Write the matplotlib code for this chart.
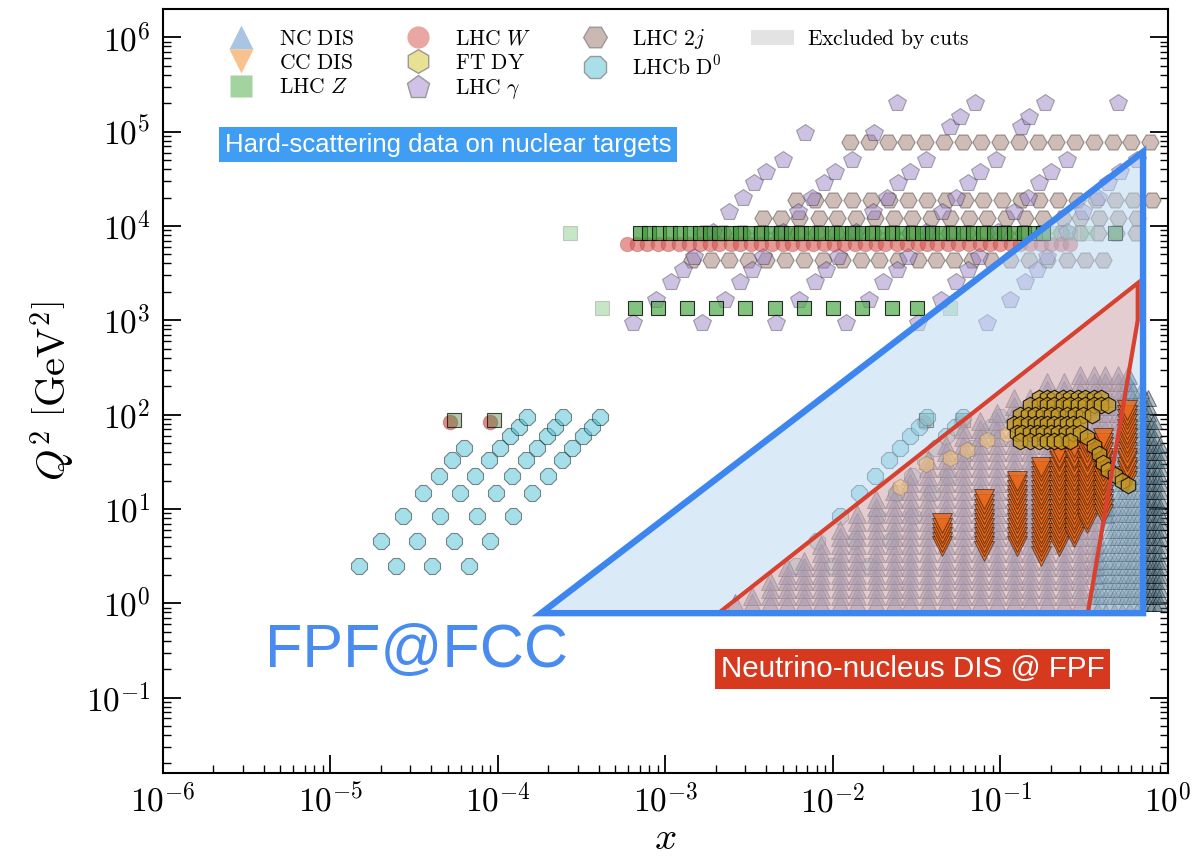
import numpy as np
import matplotlib
matplotlib.use('Agg')
import matplotlib.pyplot as plt
from matplotlib.colors import to_rgba
from matplotlib.lines import Line2D
from matplotlib.patches import Patch, Polygon
from matplotlib.ticker import LogLocator, NullFormatter, FuncFormatter

plt.rcParams['mathtext.fontset'] = 'cm'

# ---- LHCb D0 (forward, 4 rapidity diagonals) ----
d0_q2 = [2.5, 4.6, 8.5, 14.6, 22.4, 33, 44.5, 59.6, 74, 95]
d0_x1 = [1.49e-5, 2.0e-5, 2.72e-5, 3.58e-5, 4.45e-5, 5.33e-5, 6.3e-5]
d0_x2 = [2.46e-5, 3.3e-5, 4.49e-5, 5.9e-5, 7.33e-5, 8.8e-5, 1.03e-4, 1.18e-4, 1.33e-4, 1.50e-4]
d0_x3 = [4.05e-5, 5.45e-5, 7.46e-5, 9.7e-5, 1.21e-4, 1.46e-4, 1.70e-4, 1.95e-4, 2.19e-4, 2.45e-4]
d0_x4 = [6.68e-5, 8.95e-5, 1.23e-4, 1.6e-4, 2.0e-4, 2.4e-4, 2.78e-4, 3.23e-4, 3.62e-4, 4.06e-4]
# backward rapidity
d0b_x2 = [6.0e-3, 8.05e-3, 1.1e-2, 1.44e-2, 1.79e-2, 2.15e-2, 2.51e-2, 2.88e-2, 3.25e-2, 3.66e-2]
d0b_x3 = [9.9e-3, 1.33e-2, 1.82e-2, 2.37e-2, 2.95e-2, 3.56e-2, 4.15e-2, 4.76e-2, 5.34e-2, 5.98e-2]
d0b_x4 = [1.63e-2, 2.18e-2, 3.0e-2, 3.9e-2, 4.88e-2, 5.86e-2, 6.78e-2, 7.88e-2, 8.83e-2, 9.9e-2]

# ---- LHC W and Z ----
w_q2 = 6464
w_x = [5.9e-4, 6.8e-4, 7.8e-4, 9.0e-4, 1.04e-3, 1.2e-3, 1.38e-3, 1.6e-3, 1.84e-3, 2.1e-3,
       2.45e-3, 2.8e-3, 3.25e-3, 3.7e-3, 4.3e-3, 5.0e-3, 5.7e-3, 6.6e-3, 7.6e-3, 8.8e-3,
       1.01e-2, 1.17e-2, 1.35e-2, 1.55e-2, 1.8e-2, 2.05e-2, 2.4e-2, 2.75e-2, 3.2e-2, 3.65e-2,
       4.2e-2, 4.85e-2, 5.6e-2, 6.5e-2, 7.5e-2, 8.6e-2, 0.1, 0.115, 0.13, 0.15, 0.175, 0.2, 0.23, 0.26]
w_lowm_x = [5.2e-5, 9.0e-5, 3.5e-2, 5.8e-2]
w_lowm_q2 = 84

z_q2_hi = 8315
z_x_hi = [7.0e-4, 8.0e-4, 9.2e-4, 1.06e-3, 1.22e-3, 1.4e-3, 1.6e-3, 1.85e-3, 2.1e-3, 2.45e-3,
          2.8e-3, 3.2e-3, 3.7e-3, 4.25e-3, 4.9e-3, 5.6e-3, 6.4e-3, 7.4e-3, 8.5e-3, 9.8e-3,
          1.12e-2, 1.3e-2, 1.5e-2, 1.7e-2, 1.95e-2, 2.25e-2, 2.6e-2, 3.0e-2, 3.4e-2, 3.9e-2,
          4.5e-2, 5.2e-2, 6.0e-2, 6.9e-2, 7.9e-2, 9.1e-2, 0.105, 0.12, 0.138, 0.16, 0.18, 0.48]
z_q2_lo = 1336
z_x_lo = [6.6e-4, 9.0e-4, 1.35e-3, 2.0e-3, 3.0e-3, 4.5e-3, 6.7e-3, 1.0e-2, 1.5e-2, 2.24e-2, 3.16e-2]
z_lowm_x = [5.5e-5, 9.5e-5, 3.6e-2, 6.0e-2]
z_lowm_q2 = 88
z_cut_x = [2.7e-4, 4.2e-4, 5.0e-2, 0.2, 0.26, 0.33]
z_cut_q2 = [8315, 1336, 1336, 8315, 8315, 8315]

# ---- LHC dijets, one row per mass bin ----
j2_q2 = [7.8e4, 1.9e4, 1.2e4, 8.4e3, 4.4e3]
j2_x_a = [0.0126, 0.0164, 0.0212, 0.0274, 0.0355, 0.046, 0.0595, 0.077, 0.0996, 0.129,
          0.167, 0.216, 0.279, 0.361, 0.467, 0.605, 0.78]
j2_x_b = [6.0e-3, 7.8e-3, 1.0e-2, 1.3e-2, 1.68e-2, 2.17e-2, 2.8e-2, 3.63e-2, 4.7e-2, 6.1e-2,
          7.9e-2, 0.102, 0.132, 0.171, 0.221, 0.286, 0.37, 0.48, 0.62, 0.80]
j2_x_c = [3.8e-3, 4.9e-3, 6.3e-3, 8.2e-3, 1.06e-2, 1.37e-2, 1.77e-2, 2.3e-2, 2.97e-2, 3.85e-2,
          5.0e-2, 6.45e-2, 8.3e-2, 0.108, 0.14, 0.18, 0.235, 0.30, 0.39, 0.50, 0.65]
j2_x_d = [1.7e-3, 2.2e-3, 2.85e-3, 3.7e-3, 4.8e-3, 6.2e-3, 8.0e-3, 1.04e-2, 1.34e-2, 1.74e-2,
          2.25e-2, 2.9e-2, 3.8e-2, 4.9e-2, 6.3e-2, 8.2e-2, 0.106, 0.137, 0.177, 0.23, 0.30, 0.38, 0.49, 0.64]
j2_x_e = [1.44e-3, 1.86e-3, 2.4e-3, 3.1e-3, 4.0e-3, 5.2e-3, 6.7e-3, 8.7e-3, 1.13e-2, 1.46e-2,
          1.89e-2, 2.45e-2, 3.2e-2, 4.1e-2, 5.3e-2, 6.8e-2, 8.8e-2, 0.114, 0.148, 0.19, 0.25, 0.32, 0.41]

# ---- LHC photons ----
gam_x = [6.4e-4, 8.8e-4, 1.08e-3, 1.27e-3, 1.48e-3, 1.92e-3, 2.4e-3, 2.9e-3, 3.4e-3, 4.0e-3, 5.0e-3, 6.8e-3,
         1.65e-3, 2.27e-3, 2.8e-3, 3.3e-3, 3.8e-3, 5.0e-3, 6.2e-3, 7.5e-3, 8.8e-3, 1.03e-2, 1.3e-2, 1.75e-2, 2.4e-2,
         4.6e-3, 6.3e-3, 7.8e-3, 9.1e-3, 1.07e-2, 1.38e-2, 1.73e-2, 2.1e-2, 2.45e-2, 2.9e-2, 3.6e-2, 5.0e-2, 5.7e-2, 7.0e-2,
         1.2e-2, 1.65e-2, 2.0e-2, 2.4e-2, 2.8e-2, 3.6e-2, 4.5e-2, 5.4e-2, 6.4e-2, 7.5e-2, 9.4e-2, 0.132, 0.148, 0.185,
         3.2e-2, 4.4e-2, 5.4e-2, 6.4e-2, 7.4e-2, 9.6e-2, 0.12, 0.145, 0.17, 0.2, 0.25, 0.5,
         8.3e-2, 0.114, 0.14, 0.165, 0.19, 0.25, 0.31, 0.38, 0.44, 0.52, 0.65]
gam_q2 = [933, 1640, 2540, 3400, 4680, 8600, 1.4e4, 2.0e4, 2.85e4, 3.7e4, 5.0e4, 9.7e4,
          933, 1640, 2540, 3400, 4680, 8600, 1.4e4, 2.0e4, 2.85e4, 3.7e4, 5.0e4, 9.7e4, 2.0e5,
          933, 1640, 2540, 3400, 4680, 8600, 1.4e4, 2.0e4, 2.85e4, 3.7e4, 5.0e4, 1.12e5, 1.43e5, 2.0e5,
          933, 1640, 2540, 3400, 4680, 8600, 1.4e4, 2.0e4, 2.85e4, 3.7e4, 5.0e4, 1.12e5, 1.43e5, 2.0e5,
          933, 1640, 2540, 3400, 4680, 8600, 1.4e4, 2.0e4, 2.85e4, 3.7e4, 5.0e4, 2.0e5,
          933, 1640, 2540, 3400, 4680, 8600, 1.4e4, 2.0e4, 2.85e4, 3.7e4, 5.0e4]

# ---- fixed-target Drell-Yan ----
dy_x = [0.17, 0.19, 0.21, 0.235, 0.26, 0.29, 0.32, 0.36, 0.40,
        0.15, 0.17, 0.19, 0.21, 0.235, 0.26, 0.29, 0.32, 0.36, 0.40, 0.44,
        0.13, 0.145, 0.16, 0.18, 0.20, 0.22, 0.25, 0.28, 0.31, 0.35,
        0.12, 0.13, 0.145, 0.16, 0.175, 0.19, 0.21, 0.23, 0.25, 0.27, 0.30,
        0.125, 0.135, 0.15, 0.165, 0.18, 0.2, 0.22, 0.245, 0.27, 0.3,
        0.13, 0.15, 0.17, 0.19, 0.21, 0.23, 0.26,
        0.33, 0.36, 0.385, 0.41, 0.44, 0.48, 0.53, 0.58]
dy_q2 = [150] * 9 + [125] * 11 + [100] * 10 + [80] * 11 + [64] * 10 + [52] * 7 + \
        [58, 47, 38, 31, 26, 23, 20, 18]
dy_cut_x = [0.025, 0.036, 0.05, 0.063, 0.083, 0.11]
dy_cut_q2 = [17, 30, 35, 42, 54, 63]

# ---- neutral-current DIS: x bins and their Q2 coverage ----
nc_ladder = [1.0, 1.2, 1.4, 1.7, 2.0, 2.4, 2.8, 3.4, 4.1, 5.0, 6.0, 7.3, 8.8, 10.6, 12.8,
             15.5, 18.7, 22.6, 27, 33, 40, 48, 58, 70, 85, 103, 124, 150, 181, 219, 265]
nc_x = [2.6e-3, 3.3e-3, 4.2e-3, 5.3e-3, 6.7e-3, 8.5e-3, 0.011, 0.014, 0.018, 0.023, 0.029,
        0.037, 0.047, 0.06, 0.075, 0.095, 0.12, 0.15, 0.19, 0.24, 0.30, 0.36, 0.42, 0.50, 0.58]
nc_qmin = [1.0] * 21 + [2.0, 8.0, 50, 180]
nc_qmax = [1.05, 1.25, 1.7, 2.4, 3.3, 4.6, 6.6, 9.2, 13, 18, 25, 35, 50, 70, 95, 120, 150,
           180, 220, 260, 300, 300, 300, 300, 300]
# points removed by the kinematic cuts (high x)
ex_x = [0.36, 0.40, 0.45, 0.50, 0.56, 0.62, 0.69, 0.76, 0.83, 0.90]
ex_qmax = [1.6, 4.5, 14, 40, 120, 200, 200, 160, 100, 50]

# ---- charged-current DIS ----
cc_ladder = [3.2, 3.6, 4.0, 4.5, 5.0, 5.6, 6.3, 7.1, 7.9, 8.9, 10, 11.2, 12.6, 14.1, 15.8,
             17.8, 20, 22.4, 25, 28, 32, 35, 40, 45, 50, 56, 63, 71, 79, 89, 100, 112]
cc_x = [0.045, 0.08, 0.125, 0.175, 0.225, 0.275, 0.33, 0.41, 0.57]
cc_qmin = [3.8, 3.4, 3.8, 3.1, 3.8, 5.0, 6.5, 8.1, 20]
cc_qmax = [7.8, 14, 21, 30, 42, 45, 50, 58, 112]

# FPF coverage regions
fcc_x = [1.81e-4, 0.71, 0.71]
fcc_q2 = [0.785, 6.1e4, 0.785]
nu_x = [2.1e-3, 0.66, 0.66, 0.333]
nu_q2 = [0.8, 2480, 1000, 0.8]


def columns(xs, lo, hi, ladder):
    px, py = [], []
    for x, a, b in zip(xs, lo, hi):
        for q in ladder:
            if a <= q <= b:
                px.append(x)
                py.append(q)
    return px, py


fig = plt.figure(figsize=(12.01, 8.57), dpi=100)
ax = fig.add_axes([0.1357, 0.098, 0.8368, 0.8915])
ax.set_xscale('log')
ax.set_yscale('log')


def pts(x, y, marker, face, falpha, ms, edge='k', ealpha=0.45, mew=0.8, z=2):
    ax.plot(x, y, ls='none', marker=marker, ms=ms, mfc=to_rgba(face, falpha),
            mec=to_rgba(edge, ealpha), mew=mew, zorder=z)


# dijets
for q, xs in zip(j2_q2, [j2_x_a, j2_x_b, j2_x_c, j2_x_d, j2_x_e]):
    pts(xs, [q] * len(xs), 'H', '#a07a6e', 0.5, 12.5, ealpha=0.35)
# photons
pts(gam_x, gam_q2, 'p', '#9f86c9', 0.5, 13, ealpha=0.3)
# W and Z
pts(w_x, [w_q2] * len(w_x), 'o', '#d9534f', 0.6, 10.5, ealpha=0.15)
pts(w_lowm_x, [w_lowm_q2] * 4, 'o', '#d9534f', 0.7, 10.5, ealpha=0.2)
pts(z_cut_x, z_cut_q2, 's', '#5cb85c', 0.35, 10, edge='#888888', ealpha=0.4)
pts(z_x_hi, [z_q2_hi] * len(z_x_hi), 's', '#3e9b3a', 0.7, 10, ealpha=0.8)
pts(z_x_lo, [z_q2_lo] * len(z_x_lo), 's', '#4faa4a', 0.7, 10, ealpha=0.8)
pts(z_lowm_x, [z_lowm_q2] * 4, 's', '#5a8a4a', 0.45, 10, ealpha=0.7)
# LHCb D0
for xs in [d0_x1, d0_x2, d0_x3, d0_x4, d0b_x2, d0b_x3, d0b_x4]:
    pts(xs, d0_q2[:len(xs)], '8', '#4cc3d6', 0.5, 12, ealpha=0.45)
# DIS
ncx, ncq = columns(nc_x, nc_qmin, nc_qmax, nc_ladder)
pts(ncx, ncq, '^', '#2f4f8f', 0.55, 12.5, ealpha=0.6, mew=0.7)
exx, exq = columns(ex_x, [1.0] * len(ex_x), ex_qmax, nc_ladder)
pts(exx, exq, '^', '#4a6a7a', 0.45, 12, ealpha=0.5, mew=0.7)

# FPF kinematic regions, shaded over the data
ax.add_patch(Polygon(list(zip(fcc_x, fcc_q2)), closed=True, fc=to_rgba('#b9d7f1', 0.5),
                     ec='none', zorder=3))
ax.add_patch(Polygon(list(zip(nu_x, nu_q2)), closed=True, fc=to_rgba('#f2a59a', 0.42),
                     ec='none', zorder=4))

# neutrino DIS and Drell-Yan on top of the shading
ccx, ccq = columns(cc_x, cc_qmin, cc_qmax, cc_ladder)
pts(ccx, ccq, 'v', '#e8691c', 0.85, 14, ealpha=0.5, mew=0.7, z=4.5)
pts(dy_cut_x, dy_cut_q2, 'h', '#f0c27e', 0.6, 12, ealpha=0.15, z=4.5)
pts(dy_x, dy_q2, 'h', '#c49a26', 0.75, 12, ealpha=0.85, z=4.5)

ax.add_patch(Polygon(list(zip(nu_x, nu_q2)), closed=True, fill=False, ec='#d8412f',
                     lw=3, joinstyle='miter', zorder=5))
ax.add_patch(Polygon(list(zip(fcc_x, fcc_q2)), closed=True, fill=False, ec='#3d86f0',
                     lw=4.6, joinstyle='miter', zorder=6))

ax.set_xlim(1e-6, 1)
ax.set_ylim(10 ** -1.8, 10 ** 6.3)
decade = FuncFormatter(lambda v, p: r'$10^{%d}$' % round(np.log10(v)))
ax.xaxis.set_major_locator(LogLocator(base=10, numticks=20))
ax.yaxis.set_major_locator(LogLocator(base=10, numticks=20))
ax.xaxis.set_major_formatter(decade)
ax.yaxis.set_major_formatter(decade)
ax.xaxis.set_minor_locator(LogLocator(base=10, subs=np.arange(2, 10), numticks=100))
ax.yaxis.set_minor_locator(LogLocator(base=10, subs=np.arange(2, 10), numticks=100))
ax.xaxis.set_minor_formatter(NullFormatter())
ax.yaxis.set_minor_formatter(NullFormatter())
ax.tick_params(which='both', direction='in', right=True, top=False, labelsize=24)
ax.tick_params(which='major', length=13, width=1.3)
ax.tick_params(which='minor', length=6, width=1.0)
ax.tick_params(axis='x', pad=8)
ax.tick_params(axis='y', pad=9)
for s in ax.spines.values():
    s.set_linewidth(1.5)

ax.set_xlabel(r'$x$', fontsize=28, labelpad=0)
ax.set_ylabel(r'$Q^2\ \left[\mathrm{GeV}^2\right]$', fontsize=29, labelpad=6)

# legend
handles = [
    Line2D([], [], ls='none', marker='^', ms=17, mfc='#a9c5e2', mec='none', label=r'$\mathrm{NC\ DIS}$'),
    Line2D([], [], ls='none', marker='v', ms=17, mfc='#f8c28f', mec='none', label=r'$\mathrm{CC\ DIS}$'),
    Line2D([], [], ls='none', marker='s', ms=16, mfc='#a3d39e', mec='none', label=r'$\mathrm{LHC}\ Z$'),
    Line2D([], [], ls='none', marker='o', ms=16, mfc='#eaa6a3', mec='none', label=r'$\mathrm{LHC}\ W$'),
    Line2D([], [], ls='none', marker='h', ms=17, mfc='#e8e092', mec='#999999', label=r'$\mathrm{FT\ DY}$'),
    Line2D([], [], ls='none', marker='p', ms=17, mfc='#cfc2e6', mec='#999999', label=r'$\mathrm{LHC}\ \gamma$'),
    Line2D([], [], ls='none', marker='H', ms=17, mfc='#cbb8b2', mec='#999999', label=r'$\mathrm{LHC}\ 2j$'),
    Line2D([], [], ls='none', marker='8', ms=17, mfc='#a8dfe8', mec='#999999', label=r'$\mathrm{LHCb\ D}^0$'),
]
leg = ax.legend(handles=handles, loc='upper left', bbox_to_anchor=(0.062, 0.977), ncol=3,
                frameon=False, fontsize=15.5, labelspacing=0.2, columnspacing=2.2,
                handlelength=1.5, handletextpad=1.0, borderpad=0, borderaxespad=0)
ax.add_artist(leg)
ax.legend(handles=[Patch(fc='#e3e3e3', ec='none', label=r'$\mathrm{Excluded\ by\ cuts}$')],
          loc='upper left', bbox_to_anchor=(0.585, 0.977), frameon=False, fontsize=15.5,
          handlelength=2.0, handletextpad=0.6, borderpad=0, borderaxespad=0)

# annotations
ax.text(0.2836, 0.8226, 'Hard-scattering data on nuclear targets', transform=ax.transAxes,
        ha='center', va='center', color='white', fontsize=18.5, family='Liberation Sans',
        bbox=dict(boxstyle='square,pad=0.22', fc='#3f9ef3', ec='none'), zorder=10)
ax.text(0.7458, 0.1361, 'Neutrino-nucleus DIS @ FPF', transform=ax.transAxes,
        ha='center', va='center', color='white', fontsize=21.3, family='Liberation Sans',
        bbox=dict(boxstyle='square,pad=0.2', fc='#d7391f', ec='none'), zorder=10)
ax.text(0.2527, 0.1597, 'FPF@FCC', transform=ax.transAxes, ha='center', va='center',
        color='#4a8bf0', fontsize=44, family='Liberation Sans', zorder=10)

plt.savefig('out.png', dpi=100)
